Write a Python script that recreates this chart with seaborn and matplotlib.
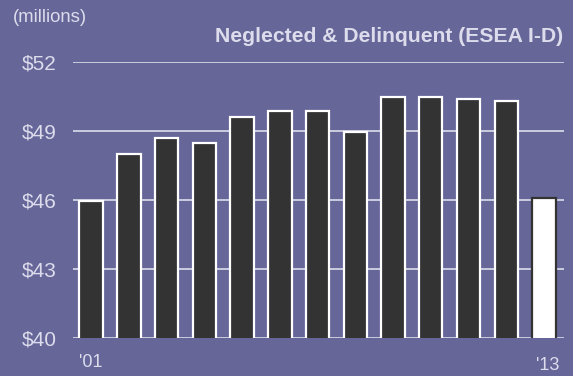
import matplotlib
matplotlib.use("Agg")
import matplotlib.pyplot as plt
import matplotlib.transforms as mtransforms
import seaborn as sns
import pandas as pd

# Federal funding, Neglected & Delinquent program (ESEA Title I-D), in $ millions
years = ["'01", "'02", "'03", "'04", "'05", "'06", "'07", "'08", "'09", "'10", "'11", "'12", "'13"]
funding = [45.98, 48.01, 48.72, 48.47, 49.60, 49.88, 49.88, 48.98, 50.48, 50.48, 50.39, 50.30, 46.09]
shown_year_labels = ["'01", "", "", "", "", "", "", "", "", "", "", "", "'13"]
y_ticks = [40, 43, 46, 49, 52]
y_tick_labels = ["$40", "$43", "$46", "$49", "$52"]

bg = "#666699"
text_col = "#dcdcec"
grid_col = "#d4d4e6"
dark = "#333333"

sns.set_theme(style="white")
plt.rcParams["font.family"] = ["Liberation Sans", "DejaVu Sans"]

fig = plt.figure(figsize=(5.73, 3.76), dpi=100, facecolor=bg)
ax = fig.add_axes([0.1274, 0.1003, 0.8569, 0.7347])
ax.set_facecolor(bg)

df = pd.DataFrame({"year": years, "funding": funding})
colors = [dark] * (len(years) - 1) + ["#ffffff"]
sns.barplot(data=df, x="year", y="funding", hue="year", palette=colors,
            legend=False, width=0.62, ax=ax, zorder=3)

edges = ["#ffffff"] * (len(years) - 1) + [dark]
for patch, ec in zip(ax.patches, edges):
    patch.set_edgecolor(ec)
    patch.set_linewidth(1.6)

ax.set_ylim(40, 52)
ax.set_xlim(-0.48, 12.53)
ax.set_yticks(y_ticks)
ax.set_yticklabels(y_tick_labels)
ax.set_xticks(range(len(years)))
ax.set_xticklabels(shown_year_labels)
ax.set_xlabel("")
ax.set_ylabel("")

for y in y_ticks:
    ax.axhline(y, color=grid_col, lw=1.3, zorder=1)

for s in ax.spines.values():
    s.set_visible(False)

ax.tick_params(axis="y", length=0, pad=11.5, labelsize=15, labelcolor=text_col)
ax.tick_params(axis="x", length=0, pad=11.5, labelsize=13, labelcolor=text_col)

# the last year label sits a little lower and to the right
last = ax.get_xticklabels()[-1]
last.set_transform(last.get_transform() + mtransforms.ScaledTranslation(4 / 100, -3 / 100, fig.dpi_scale_trans))

fig.text(13 / 573, 1 - 18 / 376, "(millions)", color=text_col, fontsize=13.3,
         ha="left", va="center")
fig.text(563 / 573, 1 - 37 / 376, "Neglected & Delinquent (ESEA I-D)", color=text_col,
         fontsize=15.2, fontweight="bold", ha="right", va="center")

fig.savefig("out.png", dpi=100, facecolor=bg)
